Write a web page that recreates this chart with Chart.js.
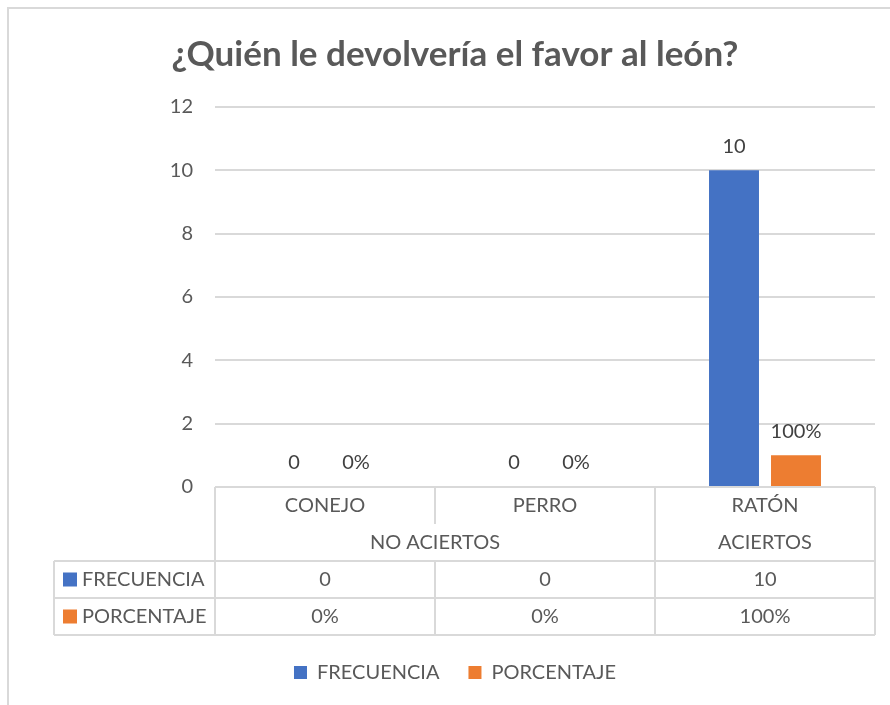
<!DOCTYPE html>
<html>
<head>
<meta charset="utf-8">
<script src="https://cdn.jsdelivr.net/npm/chart.js@4"></script>
<style>
    html, body { margin: 0; padding: 0; background: #ffffff; overflow: hidden; }
    #frame {
        position: absolute; left: 7px; top: 7px; width: 900px; height: 720px;
        border: 2px solid #d9d9d9; box-sizing: border-box;
    }
    #wrap { position: absolute; left: 0; top: 0; width: 890px; height: 705px; }
</style>
</head>
<body>
<div id="frame"></div>
<div id="wrap"><canvas id="leon_chart"></canvas></div>
<script>
// datos del gráfico
const categories = ["CONEJO", "PERRO", "RATÓN"];
const groupLabels = ["NO ACIERTOS", "ACIERTOS"];
const groupSpans = [2, 1];
const frecuencia = [0, 0, 10];
const porcentaje = [0, 0, 1]; // fracción, se muestra como %
const seriesNames = ["FRECUENCIA", "PORCENTAJE"];
const yTicks = { min: 0, max: 12, step: 2 };

const FONT = "Lato";
const TEXT = "#595959";
const LINE = "#d9d9d9";
const COLORS = ["#4472C4", "#ED7D31"];

function fmtValue(datasetIndex, v) {
    return datasetIndex === 1 ? Math.round(v * 100) + "%" : String(v);
}

// etiquetas de valor encima de cada barra
const valueLabels = {
    id: "valueLabels",
    afterDatasetsDraw(chart) {
        const { ctx } = chart;
        ctx.save();
        ctx.font = `20px ${FONT}`;
        ctx.fillStyle = "#404040";
        ctx.textAlign = "center";
        ctx.textBaseline = "middle";
        chart.data.datasets.forEach((ds, di) => {
            chart.getDatasetMeta(di).data.forEach((bar, i) => {
                ctx.fillText(fmtValue(di, ds.data[i]), bar.x, bar.y - 24);
            });
        });
        ctx.restore();
    },
};

// tabla de datos bajo el eje (estilo Excel)
const dataTable = {
    id: "dataTable",
    afterDraw(chart) {
        const { ctx, chartArea } = chart;
        const left = chartArea.left;
        const right = chartArea.right;
        const top = chartArea.bottom;
        const cellW = (right - left) / categories.length;
        const rowH = 37;
        const tableLeft = 54;

        ctx.save();
        ctx.strokeStyle = LINE;
        ctx.lineWidth = 2;
        const line = (x1, y1, x2, y2) => {
            ctx.beginPath();
            ctx.moveTo(x1, y1);
            ctx.lineTo(x2, y2);
            ctx.stroke();
        };

        // bordes horizontales
        line(left, top, right, top);
        for (let r = 2; r <= 4; r++) line(tableLeft, top + r * rowH, right, top + r * rowH);
        line(tableLeft, top + 2 * rowH, tableLeft, top + 4 * rowH);

        // bordes verticales
        const groupEnds = [];
        let acc = 0;
        groupSpans.forEach((s) => { acc += s; groupEnds.push(acc); });
        for (let i = 0; i <= categories.length; i++) {
            const x = left + i * cellW;
            const full = i === 0 || groupEnds.includes(i);
            line(x, top, x, top + rowH);
            if (full) line(x, top + rowH, x, top + 2 * rowH);
            line(x, top + 2 * rowH, x, top + 4 * rowH);
        }

        ctx.font = `20px ${FONT}`;
        ctx.fillStyle = TEXT;
        ctx.textAlign = "center";
        ctx.textBaseline = "middle";

        categories.forEach((c, i) => {
            ctx.fillText(c, left + (i + 0.5) * cellW, top + rowH / 2);
        });
        let start = 0;
        groupLabels.forEach((g, gi) => {
            const mid = start + groupSpans[gi] / 2;
            ctx.fillText(g, left + mid * cellW, top + 1.5 * rowH);
            start += groupSpans[gi];
        });

        chart.data.datasets.forEach((ds, di) => {
            const y = top + (2.5 + di) * rowH;
            ds.data.forEach((v, i) => {
                ctx.fillText(fmtValue(di, v), left + (i + 0.5) * cellW, y);
            });
            ctx.fillStyle = COLORS[di];
            ctx.fillRect(tableLeft + 9, y - 7, 14, 14);
            ctx.fillStyle = TEXT;
            ctx.textAlign = "left";
            ctx.fillText(ds.label, tableLeft + 28, y);
            ctx.textAlign = "center";
        });
        ctx.restore();
    },
};

const ctx = document.getElementById("leon_chart").getContext("2d");
new Chart(ctx, {
    type: "bar",
    data: {
        labels: categories,
        datasets: [
            { label: seriesNames[0], data: frecuencia, backgroundColor: COLORS[0] },
            { label: seriesNames[1], data: porcentaje, backgroundColor: COLORS[1] },
        ],
    },
    options: {
        responsive: true,
        maintainAspectRatio: false,
        animation: false,
        categoryPercentage: 0.5636,
        barPercentage: 0.806,
        layout: { padding: { top: 34, left: 35, right: 15, bottom: 12.5 } },
        scales: {
            x: {
                grid: { display: false },
                border: { display: false },
                ticks: { display: false },
                afterFit(scale) { scale.height = 146.5; },
            },
            y: {
                min: yTicks.min,
                max: yTicks.max,
                ticks: {
                    stepSize: yTicks.step,
                    padding: 22,
                    color: TEXT,
                    font: { family: FONT, size: 20 },
                },
                grid: { color: LINE, lineWidth: 2, drawTicks: false },
                border: { display: false },
                afterFit(scale) { scale.width = 180; },
            },
        },
        plugins: {
            title: {
                display: true,
                text: "¿Quién le devolvería el favor al león?",
                color: TEXT,
                font: { family: FONT, size: 35, weight: "bold" },
                padding: { top: 0, bottom: 31 },
            },
            legend: {
                position: "bottom",
                maxHeight: 60,
                labels: {
                    color: TEXT,
                    font: { family: FONT, size: 20 },
                    boxWidth: 13,
                    boxHeight: 13,
                    padding: 29,
                },
            },
            tooltip: { enabled: false },
        },
    },
    plugins: [valueLabels, dataTable],
});
</script>
</body>
</html>
